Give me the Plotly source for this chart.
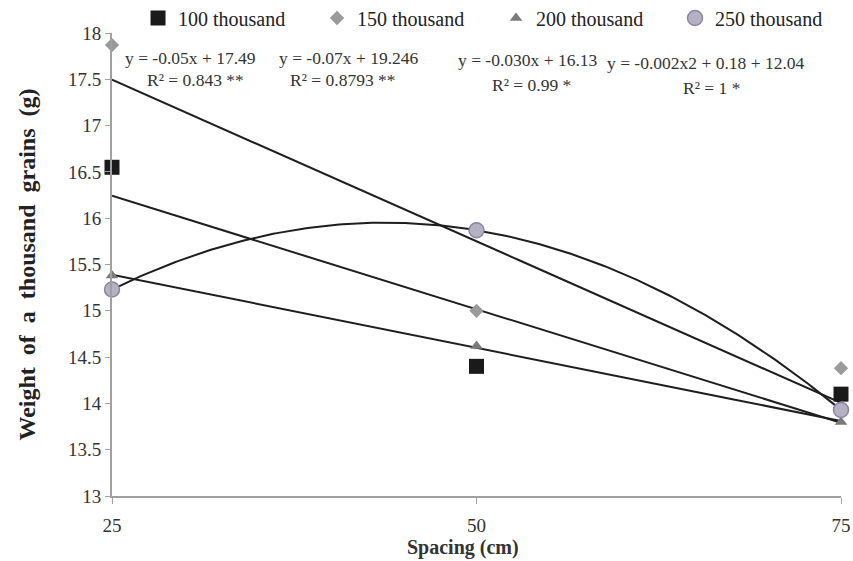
import numpy as np
import plotly.graph_objects as go

spacing = [25, 50, 75]
series_names = ["100 thousand", "150 thousand", "200 thousand", "250 thousand"]
w100 = [16.55, 14.40, 14.10]
w150 = [17.87, 15.00, 14.38]
w200 = [15.38, 14.62, 13.80]
w250 = [15.23, 15.87, 13.93]
fit_degree = [1, 1, 1, 2]
eq_lines = ["y = -0.05x + 17.49", "y = -0.07x + 19.246", "y = -0.030x + 16.13", "y = -0.002x2 + 0.18 + 12.04"]
r2_lines = ["R² = 0.843 **", "R² = 0.8793 **", "R² = 0.99 *", "R² = 1 *"]
y_ticks = [13, 13.5, 14, 14.5, 15, 15.5, 16, 16.5, 17, 17.5, 18]

series_values = [w100, w150, w200, w250]
styles = [
    dict(symbol="square", size=15, color="#1a1a1a", line=dict(width=0)),
    dict(symbol="diamond", size=11, color="#9a9a9a", line=dict(width=0)),
    dict(symbol="triangle-up", size=11, color="#7a7a7a", line=dict(width=0)),
    dict(symbol="circle", size=15, color="#b4b2c2", line=dict(width=1.5, color="#8c82a6")),
]

fig = go.Figure()
xs = np.linspace(25, 75, 200)
for vals, deg in zip(series_values, fit_degree):
    coef = np.polyfit(spacing, vals, deg)
    fig.add_trace(go.Scatter(x=xs, y=np.polyval(coef, xs), mode="lines",
                             line=dict(color="#1e1e1e", width=2), showlegend=False,
                             hoverinfo="skip"))
for name, vals, st in zip(series_names, series_values, styles):
    fig.add_trace(go.Scatter(x=spacing, y=vals, mode="markers", name=name, marker=st,
                             cliponaxis=False))

font = "Liberation Serif"
# annotation positions (data coords)
eq_pos = [(30.35, 17.73), (41.26, 17.73), (53.53, 17.71), (65.74, 17.68)]
r2_pos = [(30.76, 17.49), (40.84, 17.49), (53.74, 17.44), (66.09, 17.41)]
for (ex, ey), (rx, ry), e, r in zip(eq_pos, r2_pos, eq_lines, r2_lines):
    fig.add_annotation(x=ex, y=ey, text=e, showarrow=False, xanchor="center",
                       font=dict(family=font, size=17.5, color="#333333"))
    fig.add_annotation(x=rx, y=ry, text=r, showarrow=False, xanchor="center",
                       font=dict(family=font, size=17.5, color="#333333"))

# x-axis title (slightly left of centre, as in the reference)
fig.add_annotation(x=49.07, y=-0.112, xref="x", yref="paper", text="<b>Spacing (cm)</b>",
                   showarrow=False, xanchor="center", yanchor="middle",
                   font=dict(family=font, size=20, color="#333333"))

fig.update_layout(
    width=853, height=561,
    margin=dict(l=112, r=12, t=33, b=65, autoexpand=False),
    plot_bgcolor="white", paper_bgcolor="white",
    font=dict(family=font, size=16, color="#333333"),
    legend=dict(orientation="h", xref="paper", yref="paper",
                x=0.0357, y=1.0324, xanchor="left", yanchor="middle",
                font=dict(family=font, size=20, color="#222222"),
                entrywidth=134, entrywidthmode="pixels", itemwidth=30,
                bgcolor="rgba(0,0,0,0)"),
    showlegend=True,
)
fig.update_xaxes(range=[25, 75], tickvals=spacing, ticktext=[str(s) for s in spacing],
                 showgrid=False, zeroline=False, showline=True, linecolor="#a0a0a0", linewidth=2,
                 ticks="outside", ticklen=6, tickcolor="#a0a0a0", ticklabelstandoff=5,
                 automargin=False,
                 tickfont=dict(family=font, size=19, color="#333333"))
fig.update_yaxes(range=[13, 18], tickvals=y_ticks, ticktext=[f"{v:g}" for v in y_ticks],
                 showgrid=False, zeroline=False, showline=True, linecolor="#a0a0a0", linewidth=2,
                 ticks="outside", ticklen=5, tickcolor="#a0a0a0", automargin=False,
                 tickfont=dict(family=font, size=19, color="#333333"),
                 title=dict(text="<b>Weight\u00a0 of\u00a0 a\u00a0 thousand\u00a0 grains\u00a0 (g)</b>",
                            font=dict(family=font, size=24, color="#222222"), standoff=26))

fig.write_html("out.html", config={"displayModeBar": False},
               post_script="document.body.style.margin='0';document.body.style.overflow='hidden';")
